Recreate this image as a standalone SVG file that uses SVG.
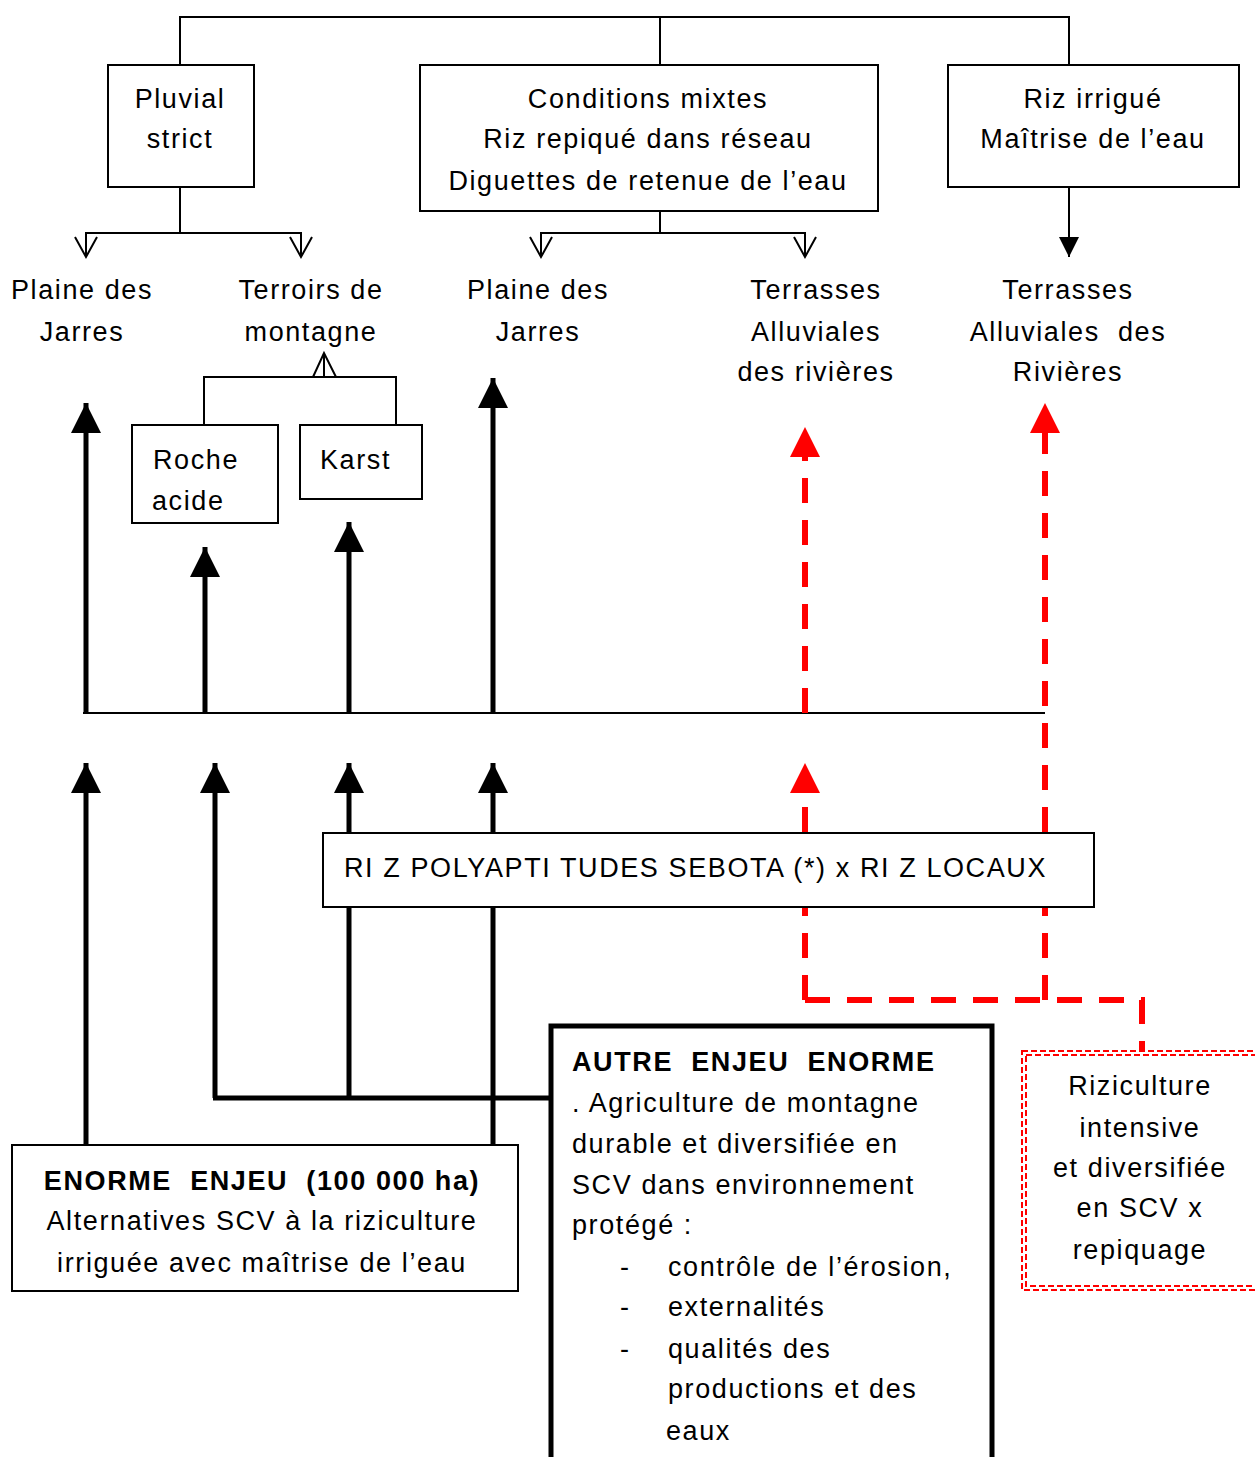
<svg xmlns="http://www.w3.org/2000/svg" width="1255" height="1457" viewBox="0 0 1255 1457">
<defs>
<style>
text{font-family:"Liberation Sans","DejaVu Sans",sans-serif;font-size:27px;letter-spacing:1.6px;fill:#000}
.c{text-anchor:middle}
.b{font-weight:bold}
.box{fill:#fff;stroke:#000;stroke-width:2}
.thin{fill:none;stroke:#000;stroke-width:2}
.thick{fill:none;stroke:#000;stroke-width:5}
.red{fill:none;stroke:#f00;stroke-width:6;stroke-dasharray:25 17}
.openv{fill:none;stroke:#000;stroke-width:2}
</style>
<marker id="big" markerUnits="userSpaceOnUse" markerWidth="32" markerHeight="32" refX="30" refY="15" orient="auto">
<path d="M0,0 L30,15 L0,30 Z" fill="#000"/>
</marker>
<marker id="small" markerUnits="userSpaceOnUse" markerWidth="22" markerHeight="22" refX="20" refY="10" orient="auto">
<path d="M0,0 L20,10 L0,20 Z" fill="#000"/>
</marker>
</defs>
<rect width="1255" height="1457" fill="#fff"/>

<g id="connectors">
<path class="thin" d="M180,65 V17 H1069 V65 M660,17 V65"/>
<path class="thin" d="M180,187 V233 M86,257 V233 H301 V257"/>
<path class="openv" d="M75,237 L86,257 L97,237 M290,237 L301,257 L312,237"/>
<path class="thin" d="M660,211 V233 M541,257 V233 H805 V257"/>
<path class="openv" d="M530,237 L541,257 L552,237 M794,237 L805,257 L816,237"/>
<line class="thin" x1="1069" y1="187" x2="1069" y2="257" marker-end="url(#small)"/>
<path class="thin" d="M204,425 V377 H396 V425"/>
<path class="openv" d="M313,377 L324,353 L336,377 M324,353 V377"/>
<line class="thin" x1="83" y1="713" x2="1045" y2="713"/>
<line class="thick" x1="86" y1="713" x2="86" y2="403" marker-end="url(#big)"/>
<line class="thick" x1="205" y1="713" x2="205" y2="547" marker-end="url(#big)"/>
<line class="thick" x1="349" y1="713" x2="349" y2="522" marker-end="url(#big)"/>
<line class="thick" x1="493" y1="713" x2="493" y2="378" marker-end="url(#big)"/>
<line class="red" x1="805" y1="713" x2="805" y2="457"/>
<path d="M790,457 L805,427 L820,457 Z" fill="#f00"/>
<line class="red" x1="1045" y1="1000" x2="1045" y2="433"/>
<path d="M1030,433 L1045,403 L1060,433 Z" fill="#f00"/>
<line class="thick" x1="86" y1="1145" x2="86" y2="763" marker-end="url(#big)"/>
<line class="thick" x1="215" y1="1098" x2="215" y2="763" marker-end="url(#big)"/>
<line class="thick" x1="349" y1="1098" x2="349" y2="763" marker-end="url(#big)"/>
<line class="thick" x1="493" y1="1145" x2="493" y2="763" marker-end="url(#big)"/>
<path class="thick" d="M213,1098 H550"/>
<line class="red" x1="805" y1="1000" x2="805" y2="793"/>
<path d="M790,793 L805,763 L820,793 Z" fill="#f00"/>
<path class="red" d="M805,1000 H1142 V1050"/>
</g>

<g id="pluvial">
<rect class="box" x="108" y="65" width="146" height="122"/>
<text class="c" x="180" y="108">Pluvial</text>
<text class="c" x="180" y="148">strict</text>
</g>
<g id="conditions">
<rect class="box" x="420" y="65" width="458" height="146"/>
<text class="c" x="648" y="108">Conditions mixtes</text>
<text class="c" x="648" y="148">Riz repiqué dans réseau</text>
<text class="c" x="648" y="190">Diguettes de retenue de l’eau</text>
</g>
<g id="irrigue">
<rect class="box" x="948" y="65" width="291" height="122"/>
<text class="c" x="1093" y="108">Riz irrigué</text>
<text class="c" x="1093" y="148">Maîtrise de l’eau</text>
</g>

<g id="plaine1">
<text class="c" x="82" y="299">Plaine des</text>
<text class="c" x="82" y="341">Jarres</text>
</g>
<g id="terroirs">
<text class="c" x="311" y="299">Terroirs de</text>
<text class="c" x="311" y="341">montagne</text>
</g>
<g id="plaine2">
<text class="c" x="538" y="299">Plaine des</text>
<text class="c" x="538" y="341">Jarres</text>
</g>
<g id="terrasses1">
<text class="c" x="816" y="299">Terrasses</text>
<text class="c" x="816" y="341">Alluviales</text>
<text class="c" x="816" y="381">des rivières</text>
</g>
<g id="terrasses2">
<text class="c" x="1068" y="299">Terrasses</text>
<text class="c" x="1068" y="341" xml:space="preserve">Alluviales  des</text>
<text class="c" x="1068" y="381">Rivières</text>
</g>

<g id="roche">
<rect class="box" x="132" y="425" width="146" height="98"/>
<text x="153" y="469">Roche</text>
<text x="152" y="510">acide</text>
</g>
<g id="karst">
<rect class="box" x="300" y="425" width="122" height="74"/>
<text x="320" y="469">Karst</text>
</g>

<g id="riz">
<rect class="box" x="323" y="833" width="771" height="74"/>
<text x="344" y="877" xml:space="preserve">RI Z POLYAPTI TUDES SEBOTA (*) x RI Z LOCAUX</text>
</g>

<g id="enorme">
<rect class="box" x="12" y="1145" width="506" height="146"/>
<text class="c b" x="262" y="1190" xml:space="preserve">ENORME  ENJEU  (100 000 ha)</text>
<text class="c" x="262" y="1230">Alternatives SCV à la riziculture</text>
<text class="c" x="262" y="1272">irriguée avec maîtrise de l’eau</text>
</g>

<g id="autre">
<rect x="551" y="1026" width="441" height="440" fill="#fff" stroke="#000" stroke-width="5"/>
<text class="b" x="572" y="1071" xml:space="preserve">AUTRE  ENJEU  ENORME</text>
<text x="572" y="1112">. Agriculture de montagne</text>
<text x="572" y="1153">durable et diversifiée en</text>
<text x="572" y="1194">SCV dans environnement</text>
<text x="572" y="1234">protégé :</text>
<text x="620" y="1276">-</text>
<text x="668" y="1276">contrôle de l’érosion,</text>
<text x="620" y="1316">-</text>
<text x="668" y="1316">externalités</text>
<text x="620" y="1358">-</text>
<text x="668" y="1358">qualités des</text>
<text x="668" y="1398">productions et des</text>
<text x="666" y="1440">eaux</text>
</g>

<g id="intensive">
<rect x="1022" y="1051" width="240" height="239" fill="#fff" stroke="#f00" stroke-width="2" stroke-dasharray="6 3"/>
<rect x="1026" y="1055" width="236" height="231" fill="none" stroke="#f00" stroke-width="2" stroke-dasharray="6 3"/>
<text class="c" x="1140" y="1095">Riziculture</text>
<text class="c" x="1140" y="1137">intensive</text>
<text class="c" x="1140" y="1177">et diversifiée</text>
<text class="c" x="1140" y="1217">en SCV x</text>
<text class="c" x="1140" y="1259">repiquage</text>
</g>
</svg>
